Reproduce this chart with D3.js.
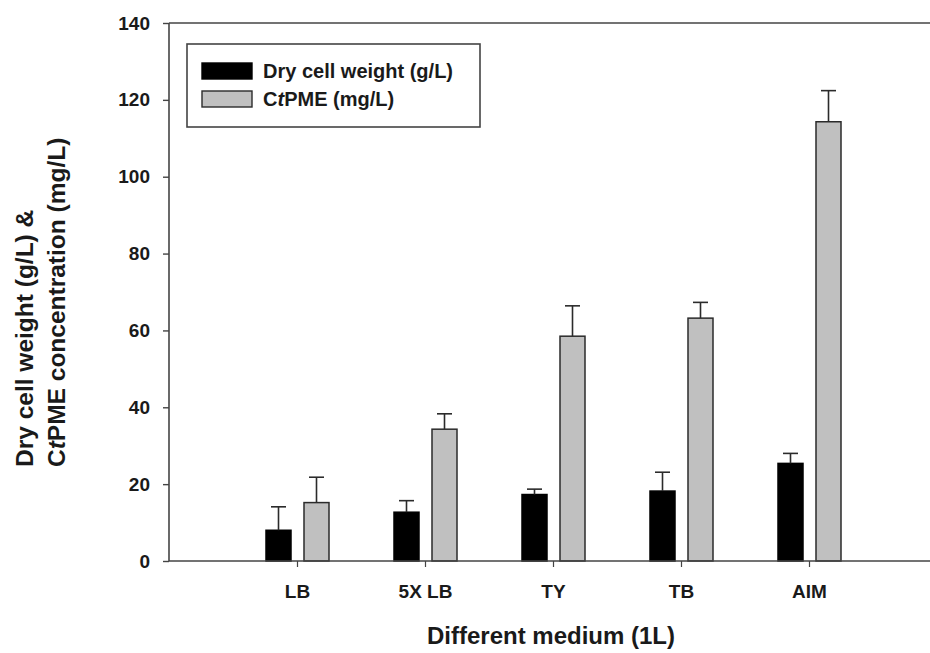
<!DOCTYPE html>
<html>
<head>
<meta charset="utf-8">
<script src="https://cdn.jsdelivr.net/npm/d3@7"></script>
<style>
  html, body { margin: 0; padding: 0; background: #fff; }
  svg { display: block; }
  text { font-family: "Liberation Sans", Arial, Helvetica, sans-serif; font-weight: bold; fill: #1a1a1a; }
</style>
</head>
<body>
<svg id="chart" width="930" height="653"></svg>
<script>
// Media and measured values (mean and upper error)
const categories = ["LB", "5X LB", "TY", "TB", "AIM"];
const dryCellWeight = [8.0, 12.7, 17.3, 18.2, 25.4];      // g/L
const dryCellWeightErr = [6.1, 3.0, 1.4, 4.9, 2.6];
const ctpme = [15.2, 34.3, 58.5, 63.2, 114.3];           // mg/L
const ctpmeErr = [6.6, 4.0, 7.9, 4.1, 8.1];
const yTicks = [0, 20, 40, 60, 80, 100, 120, 140];

const series = [
  { key: "dcw", values: dryCellWeight, errors: dryCellWeightErr, fill: "#000000", stroke: "#000000" },
  { key: "ctpme", values: ctpme, errors: ctpmeErr, fill: "#c0c0c0", stroke: "#2b2b2b" }
];

const svg = d3.select("#chart");
const plot = { left: 169, right: 937, top: 23, bottom: 561 };

const x = d3.scalePoint().domain(categories).range([plot.left, plot.right]).padding(1);
const xSub = d3.scaleBand().domain(series.map(s => s.key)).range([-31, 32]).paddingInner(0.342);
const y = d3.scaleLinear().domain([0, 140]).range([plot.bottom, plot.top]);

const axisColor = "#444";

// Bars
series.forEach(s => {
  const g = svg.append("g");
  g.selectAll("rect")
    .data(categories.map((c, i) => ({ c, v: s.values[i], e: s.errors[i] })))
    .join("rect")
    .attr("x", d => x(d.c) + xSub(s.key))
    .attr("y", d => y(d.v))
    .attr("width", xSub.bandwidth())
    .attr("height", d => y(0) - y(d.v))
    .attr("fill", s.fill)
    .attr("stroke", s.stroke)
    .attr("stroke-width", 1.5);

  // Upper error bars with caps
  const eb = g.selectAll("g.err")
    .data(categories.map((c, i) => ({ c, v: s.values[i], e: s.errors[i] })))
    .join("g").attr("class", "err");
  eb.append("line")
    .attr("x1", d => x(d.c) + xSub(s.key) + xSub.bandwidth() / 2)
    .attr("x2", d => x(d.c) + xSub(s.key) + xSub.bandwidth() / 2)
    .attr("y1", d => y(d.v))
    .attr("y2", d => y(d.v + d.e))
    .attr("stroke", "#2b2b2b").attr("stroke-width", 1.6);
  eb.append("line")
    .attr("x1", d => x(d.c) + xSub(s.key) + xSub.bandwidth() / 2 - 7.5)
    .attr("x2", d => x(d.c) + xSub(s.key) + xSub.bandwidth() / 2 + 7.5)
    .attr("y1", d => y(d.v + d.e))
    .attr("y2", d => y(d.v + d.e))
    .attr("stroke", "#2b2b2b").attr("stroke-width", 1.6);
});

// Top frame line
svg.append("line")
  .attr("x1", plot.left).attr("x2", plot.right)
  .attr("y1", plot.top).attr("y2", plot.top)
  .attr("stroke", axisColor).attr("stroke-width", 1.6);

// Y axis
const yAxis = svg.append("g")
  .attr("transform", `translate(${plot.left},0)`)
  .call(d3.axisLeft(y).tickValues(yTicks).tickSize(6).tickPadding(13).tickFormat(d3.format("d")));
yAxis.select(".domain").attr("stroke", axisColor).attr("stroke-width", 1.6).attr("d", `M0,${plot.bottom}V${plot.top}`);
yAxis.selectAll(".tick line").attr("stroke", axisColor).attr("stroke-width", 1.4);
yAxis.selectAll(".tick text").attr("font-size", 19).attr("fill", "#1a1a1a")
  .attr("font-family", "Liberation Sans, Arial, sans-serif").attr("font-weight", "bold");

// X axis
const xAxis = svg.append("g")
  .attr("transform", `translate(0,${plot.bottom})`)
  .call(d3.axisBottom(x).tickSize(6).tickPadding(18));
xAxis.select(".domain").attr("stroke", axisColor).attr("stroke-width", 1.6).attr("d", `M${plot.left},0H${plot.right}`);
xAxis.selectAll(".tick line").attr("stroke", axisColor).attr("stroke-width", 1.2);
xAxis.selectAll(".tick text").attr("font-size", 19).attr("fill", "#1a1a1a")
  .attr("font-family", "Liberation Sans, Arial, sans-serif").attr("font-weight", "bold");

// Axis titles
svg.append("text")
  .attr("x", (plot.left + plot.right) / 2 - 2)
  .attr("y", 644)
  .attr("text-anchor", "middle")
  .attr("font-size", 24)
  .text("Different medium (1L)");

const yTitle = svg.append("g");
yTitle.append("text")
  .attr("transform", "translate(33,467) rotate(-90)")
  .attr("font-size", 24.5)
  .text("Dry cell weight (g/L) &");
const yT2 = yTitle.append("text")
  .attr("transform", "translate(65,467) rotate(-90)")
  .attr("font-size", 24.5);
yT2.append("tspan").text("C");
yT2.append("tspan").attr("font-style", "italic").text("t");
yT2.append("tspan").text("PME concentration (mg/L)");

// Legend
const legend = svg.append("g");
legend.append("rect")
  .attr("x", 187).attr("y", 44).attr("width", 293).attr("height", 83)
  .attr("fill", "#fff").attr("stroke", axisColor).attr("stroke-width", 1.6);
const legendItems = [
  { s: series[0], y: 63, label: [["Dry cell weight (g/L)", "normal"]] },
  { s: series[1], y: 91, label: [["C", "normal"], ["t", "italic"], ["PME (mg/L)", "normal"]] }
];
legendItems.forEach(item => {
  legend.append("rect")
    .attr("x", 202).attr("y", item.y).attr("width", 50).attr("height", 16)
    .attr("fill", item.s.fill).attr("stroke", item.s.stroke).attr("stroke-width", 1.4);
  const t = legend.append("text")
    .attr("x", 263).attr("y", item.y + 15)
    .attr("font-size", 20);
  item.label.forEach(([txt, style]) => t.append("tspan").attr("font-style", style).text(txt));
});
</script>
</body>
</html>
